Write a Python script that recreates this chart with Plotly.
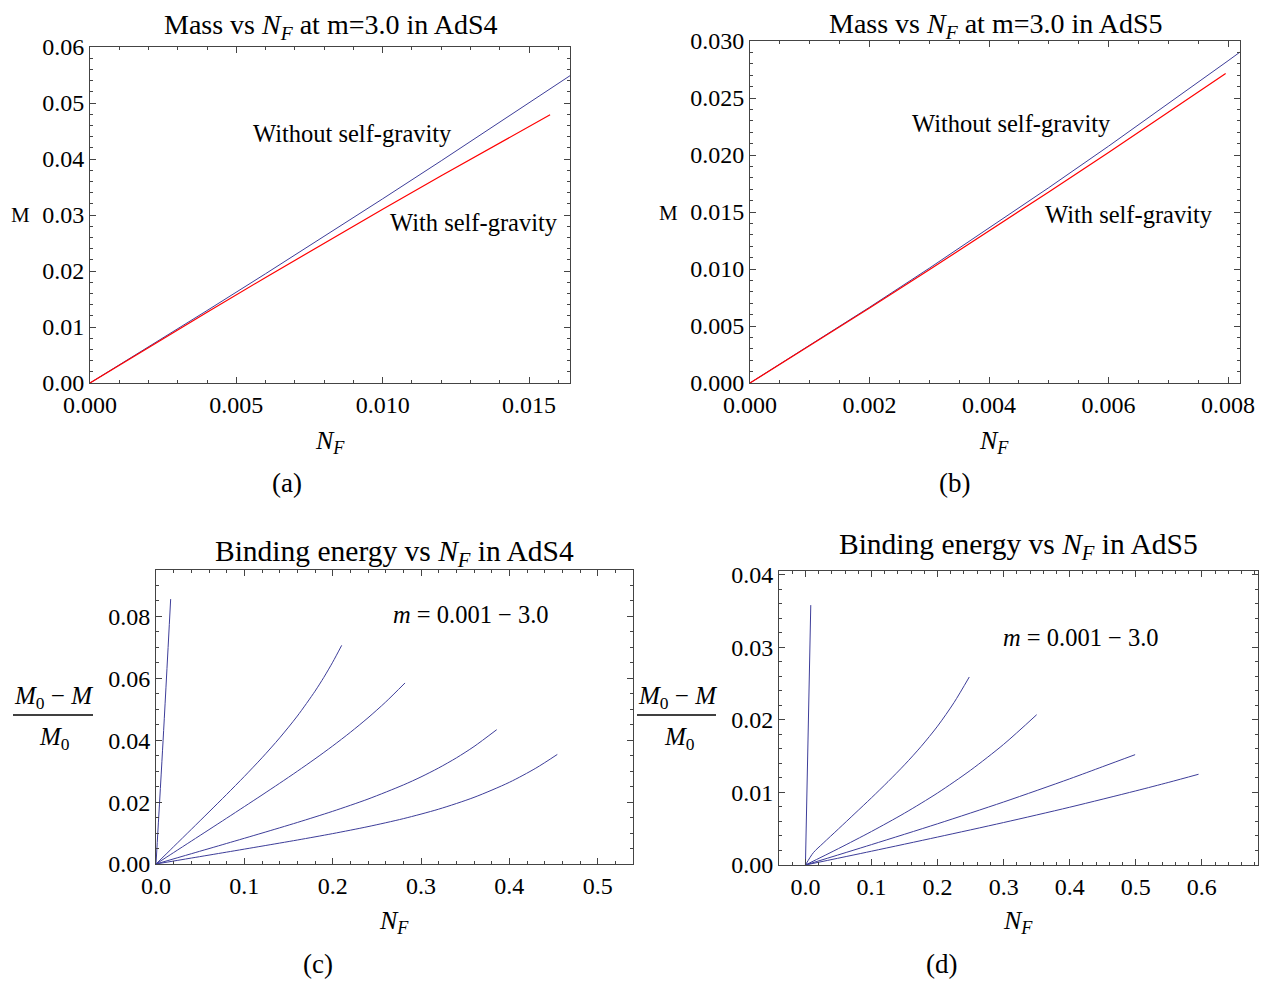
import plotly.graph_objects as go

# page body has an 8px margin; the figure is sized so that it fills the 1271x982 window
OX, OY = 8, 8
W, H = 1271 - OX, 982 - OY

# ---------------- data ----------------
# (a) Mass vs N_F at m=3.0 in AdS4
nf_a_free = [0, 0.002, 0.004, 0.006, 0.008, 0.010, 0.012, 0.014, 0.0165]
m_a_free = [0, 0.00644, 0.01294, 0.01952, 0.02617, 0.03289, 0.03968, 0.04654, 0.05522]
nf_a_grav = [0, 0.002, 0.004, 0.006, 0.008, 0.010, 0.012, 0.014, 0.01572]
m_a_grav = [0, 0.00636, 0.01265, 0.01885, 0.02498, 0.03103, 0.0370, 0.0429, 0.0479]

# (b) Mass vs N_F at m=3.0 in AdS5
nf_b_free = [0, 0.001, 0.002, 0.003, 0.004, 0.005, 0.006, 0.007, 0.008, 0.0083]
m_b_free = [0, 0.003285, 0.006642, 0.010069, 0.013566, 0.017135, 0.020774, 0.024485, 0.028266, 0.02941]
nf_b_grav = [0, 0.001, 0.002, 0.003, 0.004, 0.005, 0.006, 0.007, 0.00796]
m_b_grav = [0, 0.00327, 0.00658, 0.00993, 0.01333, 0.01676, 0.02023, 0.02375, 0.02716]

# (c) Binding energy vs N_F in AdS4 (five masses m = 0.001 ... 3.0)
nf_c = [
    [0, 0.008, 0.0166],
    [0, 0.02, 0.04, 0.06, 0.08, 0.10, 0.12, 0.14, 0.16, 0.18, 0.19, 0.20, 0.2102],
    [0, 0.02, 0.04, 0.06, 0.08, 0.10, 0.12, 0.14, 0.16, 0.18, 0.20, 0.22, 0.24, 0.26, 0.2819],
    [0, 0.04, 0.08, 0.12, 0.16, 0.20, 0.24, 0.28, 0.30, 0.32, 0.34, 0.36, 0.3857],
    [0, 0.04, 0.08, 0.12, 0.16, 0.20, 0.24, 0.28, 0.32, 0.36, 0.40, 0.43, 0.4543],
]
be_c = [
    [0, 0.0398, 0.0856],
    [0, 0.0056, 0.0112, 0.01682, 0.02249, 0.02829, 0.03432, 0.04075, 0.04781, 0.05583, 0.06032, 0.0652, 0.07065],
    [0, 0.0037, 0.0074, 0.0111, 0.01481, 0.01854, 0.02229, 0.02609, 0.02997, 0.03397, 0.03814, 0.04254, 0.04724, 0.05234, 0.0585],
    [0, 0.00332, 0.00664, 0.00999, 0.01342, 0.01703, 0.02098, 0.02554, 0.02814, 0.03104, 0.03428, 0.03795, 0.0434],
    [0, 0.00192, 0.00384, 0.00578, 0.00775, 0.00982, 0.01208, 0.01465, 0.01772, 0.02153, 0.02639, 0.03097, 0.0354],
]

# (d) Binding energy vs N_F in AdS5
nf_d = [
    [0, 0.0081],
    [0, 0.012, 0.0268, 0.05, 0.075, 0.10, 0.125, 0.15, 0.175, 0.20, 0.225, 0.248],
    [0, 0.05, 0.10, 0.15, 0.20, 0.25, 0.30, 0.35],
    [0, 0.1, 0.2, 0.3, 0.4, 0.45, 0.499],
    [0, 0.1, 0.2, 0.3, 0.4, 0.5, 0.55, 0.595],
]
be_d = [
    [0, 0.0358],
    [0, 0.0017, 0.0030, 0.00497, 0.00711, 0.00926, 0.01148, 0.0138, 0.01632, 0.01913, 0.02239, 0.0259],
    [0, 0.00226, 0.00462, 0.00714, 0.00992, 0.01306, 0.01662, 0.0207],
    [0, 0.00281, 0.00568, 0.00868, 0.01187, 0.01355, 0.0152],
    [0, 0.0019, 0.00385, 0.00585, 0.00796, 0.01021, 0.01139, 0.0125],
]

# ---------------- styling ----------------
BLUE = '#3d3d99'
RED = '#ff0000'
FONT = 'Liberation Serif'
FRAME = '#444444'
NF = '<i>N</i><sub><i>F</i></sub>'


def px(x, y):
    return (x - OX) / W, 1 - (y - OY) / H


def hdom(x0, x1):
    return [(x0 - OX) / W, (x1 - OX) / W]


def vdom(ytop, ybot):
    return [1 - (ybot - OY) / H, 1 - (ytop - OY) / H]


def axis(dom, rng, dtick, minor_dtick, fmt, anchor):
    return dict(
        domain=dom, range=rng, autorange=False, anchor=anchor, automargin=False,
        showline=True, linecolor=FRAME, linewidth=1, mirror='allticks',
        ticks='inside', ticklen=6, tickwidth=1, tickcolor=FRAME,
        tick0=0, dtick=dtick, tickformat=fmt,
        minor=dict(ticks='inside', ticklen=3, tickwidth=1, tickcolor=FRAME,
                   dtick=minor_dtick, tick0=0, showgrid=False),
        showgrid=False, zeroline=False,
        tickfont=dict(family=FONT, size=24, color='black'),
    )


fig = go.Figure()

# panel a
fig.add_trace(go.Scatter(x=nf_a_free, y=m_a_free, mode='lines', line=dict(color=BLUE, width=1),
                         xaxis='x', yaxis='y', showlegend=False))
fig.add_trace(go.Scatter(x=nf_a_grav, y=m_a_grav, mode='lines', line=dict(color=RED, width=1.2),
                         xaxis='x', yaxis='y', showlegend=False))
# panel b
fig.add_trace(go.Scatter(x=nf_b_free, y=m_b_free, mode='lines', line=dict(color=BLUE, width=1),
                         xaxis='x2', yaxis='y2', showlegend=False))
fig.add_trace(go.Scatter(x=nf_b_grav, y=m_b_grav, mode='lines', line=dict(color=RED, width=1.2),
                         xaxis='x2', yaxis='y2', showlegend=False))
# panel c
for xs, ys in zip(nf_c, be_c):
    fig.add_trace(go.Scatter(x=xs, y=ys, mode='lines',
                             line=dict(color=BLUE, width=1, shape='spline', smoothing=0.8),
                             xaxis='x3', yaxis='y3', showlegend=False))
# panel d
for xs, ys in zip(nf_d, be_d):
    fig.add_trace(go.Scatter(x=xs, y=ys, mode='lines',
                             line=dict(color=BLUE, width=1, shape='spline', smoothing=0.8),
                             xaxis='x4', yaxis='y4', showlegend=False))

layout = dict(
    template='none',
    width=W, height=H, margin=dict(l=0, r=0, t=0, b=0, autoexpand=False),
    paper_bgcolor='white', plot_bgcolor='white',
    font=dict(family=FONT, size=24, color='black'),
    showlegend=False,
    xaxis=axis(hdom(90, 570), [0, 0.0164], 0.005, 0.001, '.3f', 'y'),
    yaxis=axis(vdom(47, 383), [0, 0.06], 0.01, 0.002, '.2f', 'x'),
    xaxis2=axis(hdom(750, 1240), [0, 0.0082], 0.002, 0.0005, '.3f', 'y2'),
    yaxis2=axis(vdom(41, 383), [0, 0.030], 0.005, 0.001, '.3f', 'x2'),
    xaxis3=axis(hdom(156, 633), [0, 0.54], 0.1, 0.02, '.1f', 'y3'),
    yaxis3=axis(vdom(570, 864), [0, 0.095], 0.02, 0.005, '.2f', 'x3'),
    xaxis4=axis(hdom(779, 1258), [-0.04, 0.685], 0.1, 0.02, '.1f', 'y4'),
    yaxis4=axis(vdom(571, 865), [0, 0.0405], 0.01, 0.002, '.2f', 'x4'),
)
fig.update_layout(**layout)

annotations = [
    # titles
    (330, 27, 'Mass vs ' + NF + ' at m=3.0 in AdS4', 28),
    (995, 26, 'Mass vs ' + NF + ' at m=3.0 in AdS5', 28),
    (394, 553, 'Binding energy vs ' + NF + ' in AdS4', 29.5),
    (1018, 546, 'Binding energy vs ' + NF + ' in AdS5', 29.5),
    # x-axis labels
    (330, 442, NF, 26),
    (994, 442, NF, 26),
    (394, 922, NF, 26),
    (1018, 922, NF, 26),
    # y-axis labels
    (20, 215, 'M', 21),
    (668, 213, 'M', 21),
    (53, 697, '<i>M</i><sub>0</sub> − <i>M</i>', 25),
    (55, 738, '<i>M</i><sub>0</sub>', 25),
    (677, 697, '<i>M</i><sub>0</sub> − <i>M</i>', 25),
    (679, 738, '<i>M</i><sub>0</sub>', 25),
    # curve labels
    (352, 134, 'Without self-gravity', 24.5),
    (474, 223, 'With self-gravity', 24.5),
    (1011, 124, 'Without self-gravity', 24.5),
    (1129, 215, 'With self-gravity', 24.5),
    (471, 614, '<i>m</i> = 0.001 − 3.0', 24.5),
    (1081, 637, '<i>m</i> = 0.001 − 3.0', 24.5),
    # captions
    (287, 483, '(a)', 27),
    (954, 483, '(b)', 27),
    (318, 964, '(c)', 27),
    (941, 964, '(d)', 27),
]
anns = []
for x, y, t, s in annotations:
    ax, ay = px(x, y)
    anns.append(dict(x=ax, y=ay, xref='paper', yref='paper', text=t, showarrow=False,
                     xanchor='center', yanchor='middle',
                     font=dict(family=FONT, size=s, color='black')))
fig.update_layout(annotations=anns)

# fraction bars
for x0, x1 in [(13, 93), (637, 716)]:
    a0, b0 = px(x0, 715)
    a1, _ = px(x1, 715)
    fig.add_shape(type='line', xref='paper', yref='paper', x0=a0, x1=a1, y0=b0, y1=b0,
                  line=dict(color='black', width=1.3))

fig.write_html('out.html')
